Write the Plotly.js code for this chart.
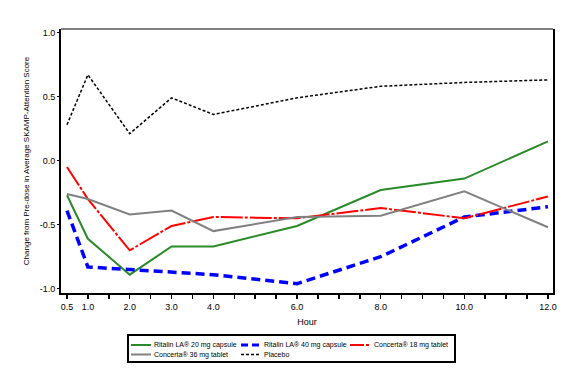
<!DOCTYPE html>
<html>
<head>
<meta charset="utf-8">
<script src="https://cdn.plot.ly/plotly-3.0.1.min.js"></script>
<style>
html,body{margin:0;padding:0;background:#fff;}
#chart{width:585px;height:384px;}
</style>
</head>
<body>
<div id="chart"></div>
<script>
// ---- data ----
const hours = [0.5, 1, 2, 3, 4, 6, 8, 10, 12];
const ritalin20 = [-0.27, -0.61, -0.89, -0.67, -0.67, -0.51, -0.23, -0.14, 0.15];
const ritalin40 = [-0.39, -0.83, -0.85, -0.87, -0.89, -0.96, -0.75, -0.44, -0.36];
const concerta18 = [-0.05, -0.30, -0.70, -0.51, -0.44, -0.45, -0.37, -0.45, -0.28];
const concerta36 = [-0.26, -0.30, -0.42, -0.39, -0.55, -0.44, -0.43, -0.24, -0.52];
const placebo = [0.28, 0.67, 0.21, 0.49, 0.36, 0.49, 0.58, 0.61, 0.63];

const seriesNames = ["Ritalin LA\u00ae 20 mg capsule", "Ritalin LA\u00ae 40 mg capsule", "Concerta\u00ae 18 mg tablet", "Concerta\u00ae 36 mg tablet", "Placebo"];
const xTickVals = [0.5, 1, 1.5, 2, 2.5, 3, 3.5, 4, 4.5, 5, 5.5, 6, 6.5, 7, 7.5, 8, 8.5, 9, 9.5, 10, 10.5, 11, 11.5, 12];
const xTickText = ["0.5", "1.0", "", "2.0", "", "3.0", "", "4.0", "", "", "", "6.0", "", "", "", "8.0", "", "", "", "10.0", "", "", "", "12.0"];
const yTickVals = [-1, -0.5, 0, 0.5, 1];
const yTickText = ["-1.0", "-0.5", "0.0", "0.5", "1.0"];

// ---- styles ----
const seriesValues = [ritalin20, ritalin40, concerta18, concerta36, placebo];
const styles = [
  {color: "#2a8a2a", width: 2, dash: "solid", legDash: "solid", legWidth: 2},
  {color: "#0000ff", width: 3.5, dash: "9px,5px", legDash: "7px,4px", legWidth: 3},
  {color: "#ff0000", width: 2, dash: "22px,2px,3px,2px", legDash: "14px,2px,3px,2px", legWidth: 2},
  {color: "#808080", width: 2, dash: "solid", legDash: "solid", legWidth: 2},
  {color: "#000000", width: 1.5, dash: "3px,2px", legDash: "3px,2px", legWidth: 1.5}
];

const FONT = "Liberation Sans, Arial, sans-serif";
const W = 585, H = 384;
const M = {l: 61, r: 32, t: 29, b: 91};
const pw = W - M.l - M.r, ph = H - M.t - M.b;
const px2x = p => (p - M.l) / pw;
const px2y = p => (H - M.b - p) / ph;

const traces = seriesValues.map((vals, i) => ({
  x: hours, y: vals, type: "scatter", mode: "lines",
  name: seriesNames[i], showlegend: false,
  line: {color: styles[i].color, width: styles[i].width, dash: styles[i].dash}
}));

// ---- custom legend (box, sample lines, labels) ----
const shapes = [];
const annotations = [];
shapes.push({type: "line", xref: "paper", yref: "paper", x0: 0, x1: 1, y0: 1, y1: 1, line: {color: "#000", width: 1}});
shapes.push({type: "rect", xref: "paper", yref: "paper",
  x0: px2x(128), x1: px2x(455), y0: px2y(335), y1: px2y(362),
  line: {color: "#000", width: 2}, fillcolor: "rgba(0,0,0,0)"});
const legendPos = [
  {sx: 131, tx: 152, y: 345},
  {sx: 241, tx: 262, y: 345},
  {sx: 350, tx: 372, y: 345},
  {sx: 131, tx: 152, y: 354.5},
  {sx: 241, tx: 262, y: 354.5}
];
legendPos.forEach((p, i) => {
  shapes.push({type: "line", xref: "paper", yref: "paper",
    x0: px2x(p.sx), x1: px2x(p.sx + 20), y0: px2y(p.y), y1: px2y(p.y),
    line: {color: styles[i].color, width: styles[i].legWidth, dash: styles[i].legDash}});
  annotations.push({xref: "paper", yref: "paper", x: px2x(p.tx), y: px2y(p.y),
    xanchor: "left", yanchor: "middle", showarrow: false, text: seriesNames[i],
    font: {family: FONT, size: 7, color: "#000"}});
});

const layout = {
  width: W, height: H,
  margin: M,
  paper_bgcolor: "#fff", plot_bgcolor: "#fff",
  showlegend: false,
  font: {family: FONT, color: "#000"},
  xaxis: {
    range: [0.357, 12.12], showgrid: false, zeroline: false,
    showline: true, linewidth: 2, linecolor: "#000", mirror: false,
    tickmode: "array", tickvals: xTickVals, ticktext: xTickText,
    ticks: "outside", ticklen: 4, tickwidth: 1.5, tickcolor: "#000",
    tickfont: {family: FONT, size: 9, color: "#000"},
    title: {text: "Hour", font: {family: FONT, size: 9, color: "#000"}, standoff: 8}
  },
  yaxis: {
    range: [-1.033, 1.027], showgrid: false, zeroline: false,
    showline: true, linewidth: 2, linecolor: "#000", mirror: true,
    tickmode: "array", tickvals: yTickVals, ticktext: yTickText,
    ticks: "outside", ticklen: 2, tickwidth: 1, tickcolor: "#000",
    tickfont: {family: FONT, size: 9, color: "#000"},
    title: {text: "Change from Pre-dose in Average SKAMP-Attention Score", font: {family: FONT, size: 8, color: "#000"}, standoff: 9}
  },
  shapes: shapes,
  annotations: annotations
};

Plotly.newPlot("chart", traces, layout, {staticPlot: true, displayModeBar: false});
</script>
</body>
</html>
